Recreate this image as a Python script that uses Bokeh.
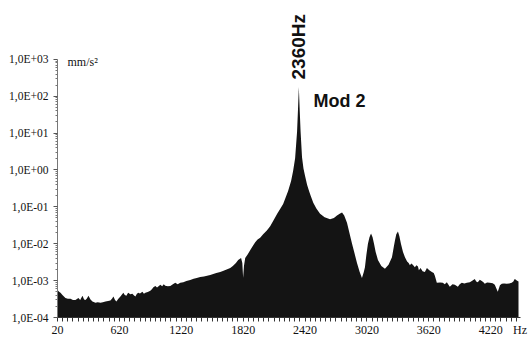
import math
from bokeh.plotting import figure
from bokeh.models import (FixedTicker, CustomJSTickFormatter, Range1d, Label)
from bokeh.embed import file_html
from bokeh.resources import INLINE

# ---- data ----
freq_hz = [20, 35, 49, 70, 97, 120, 146, 170, 194, 223, 240, 262, 278, 291, 305, 320, 340,
           359, 388, 410, 436, 460, 485, 510, 533, 550, 562, 578, 591, 610, 630, 645, 659,
           672, 688, 700, 707, 725, 746, 760, 775, 790, 804, 820, 843, 858, 872, 895, 920,
           935, 950, 969, 985, 1000, 1017, 1035, 1050, 1065, 1090, 1114, 1135, 1162, 1185,
           1211, 1240, 1270, 1307, 1340, 1370, 1404, 1440, 1470, 1501, 1530, 1560, 1598,
           1630, 1660, 1695, 1720, 1750, 1772, 1800, 1812, 1820, 1828, 1840, 1865, 1888,
           1912, 1937, 1960, 1985, 2014, 2050, 2082, 2115, 2150, 2180, 2208, 2232, 2256,
           2285, 2304, 2324, 2343, 2352, 2360, 2368, 2377, 2391, 2405, 2420, 2440, 2459,
           2475, 2500, 2530, 2566, 2610, 2663, 2700, 2730, 2760, 2779, 2800, 2827, 2852,
           2876, 2900, 2924, 2950, 2972, 2990, 3001, 3015, 3030, 3045, 3060, 3075, 3089,
           3105, 3127, 3160, 3195, 3230, 3263, 3280, 3292, 3305, 3321, 3335, 3350, 3370,
           3389, 3410, 3425, 3437, 3450, 3465, 3485, 3500, 3515, 3524, 3540, 3560, 3582,
           3602, 3625, 3650, 3668, 3679, 3698, 3730, 3756, 3775, 3795, 3824, 3850, 3873,
           3902, 3920, 3940, 3965, 3989, 4018, 4045, 4066, 4080, 4095, 4115, 4134, 4150,
           4163, 4185, 4211, 4240, 4260, 4289, 4310, 4328, 4350, 4376, 4400, 4424, 4440,
           4453, 4465, 4473, 4490]

accel_mm_s2 = [5.6e-4, 5.0e-4, 4.7e-4, 4.0e-4, 3.4e-4, 3.2e-4, 3.2e-4, 3.0e-4, 3.0e-4, 3.4e-4,
               3.0e-4, 3.9e-4, 3.1e-4, 3.0e-4, 3.3e-4, 3.9e-4, 3.1e-4, 2.7e-4, 2.5e-4, 2.6e-4,
               2.5e-4, 2.6e-4, 2.7e-4, 2.8e-4, 2.9e-4, 3.3e-4, 3.7e-4, 3.0e-4, 2.7e-4, 3.2e-4,
               3.7e-4, 4.2e-4, 4.7e-4, 4.1e-4, 3.9e-4, 4.5e-4, 4.7e-4, 4.3e-4, 4.4e-4, 4.0e-4,
               3.7e-4, 4.4e-4, 4.7e-4, 4.5e-4, 5.0e-4, 4.4e-4, 4.7e-4, 4.9e-4, 5.3e-4, 5.8e-4,
               6.6e-4, 7.2e-4, 6.5e-4, 7.0e-4, 7.7e-4, 7.0e-4, 8.0e-4, 7.3e-4, 7.0e-4, 7.2e-4,
               7.8e-4, 8.7e-4, 8.0e-4, 8.7e-4, 9.0e-4, 9.8e-4, 1.04e-3, 1.12e-3, 1.18e-3,
               1.26e-3, 1.30e-3, 1.36e-3, 1.42e-3, 1.5e-3, 1.6e-3, 1.71e-3, 1.85e-3, 2.0e-3,
               2.19e-3, 2.5e-3, 3.0e-3, 3.6e-3, 4.1e-3, 3.0e-3, 1.2e-3, 2.5e-3, 4.1e-3, 5.2e-3,
               6.7e-3, 8.5e-3, 1.09e-2, 1.3e-2, 1.45e-2, 1.8e-2, 2.3e-2, 3.0e-2, 4.3e-2,
               6.5e-2, 8.9e-2, 0.12, 0.18, 0.27, 0.50, 0.93, 2.07, 11, 45, 178, 45, 11, 2.2,
               1.1, 0.7, 0.4, 0.27, 0.2, 0.13, 0.09, 0.065, 0.052, 0.046, 0.05, 0.058, 0.066,
               0.07, 0.058, 0.037, 0.019, 0.010, 0.0055, 0.0030, 0.0017, 0.00118, 0.0017,
               0.0023, 0.005, 0.010, 0.015, 0.019, 0.015, 0.010, 0.006, 0.0036, 0.0025, 0.0021,
               0.0027, 0.0043, 0.008, 0.0123, 0.018, 0.0215, 0.016, 0.010, 0.006, 0.0043,
               0.0033, 0.0030, 0.0026, 0.0029, 0.0027, 0.0023, 0.0026, 0.0024, 0.0019, 0.0022,
               0.0018, 0.0017, 0.0022, 0.0019, 0.0017, 0.0016, 0.00135, 0.00087, 0.00089,
               0.00087, 0.00080, 0.00090, 0.00068, 0.00080, 0.00077, 0.00068, 0.00080,
               0.00087, 0.00084, 0.00087, 0.00090, 0.00100, 0.00111, 0.00095, 0.00090,
               0.00105, 0.00097, 0.00090, 0.00082, 0.00089, 0.00087, 0.00085, 0.00077,
               0.00050, 0.00075, 0.00082, 0.00083, 0.00082, 0.00084, 0.00087, 0.00095,
               0.00111, 0.00105, 0.00100, 0.00095]

x_tick_values = [20, 620, 1220, 1820, 2420, 3020, 3620, 4220]
y_tick_values = [1e-4, 1e-3, 1e-2, 1e-1, 1e0, 1e1, 1e2, 1e3]

peak_freq = 2360
peak_label = "2360Hz"
mode_label = "Mod 2"
y_unit = "mm/s\u00b2"
x_unit = "Hz"
x_unit_pos = 4505  # where the unit text sits on the frequency axis

# ---- figure ----
X_MIN, X_END, X_AXIS_END, X_RANGE_END = 20, 4490, 4510, 4616
Y_MIN, Y_MAX, Y_RANGE_END = 1e-4, 1e3, 10 ** 4.595

p = figure(width=531, height=339, output_backend="svg", toolbar_location=None,
           y_axis_type="log",
           x_range=Range1d(X_MIN, X_RANGE_END), y_range=Range1d(Y_MIN, Y_RANGE_END),
           min_border_left=57, min_border_right=0, min_border_top=0, min_border_bottom=21)
p.outline_line_color = None
p.grid.grid_line_color = None
p.background_fill_color = "white"
p.border_fill_color = "white"

baseline = [Y_MIN] * len(freq_hz)
p.varea(x=freq_hz, y1=baseline, y2=accel_mm_s2, fill_color="#141414")

serif = "Liberation Serif, Times New Roman, Times, serif"

# x axis
xa = p.xaxis[0]
xa.bounds = (X_MIN, X_AXIS_END)
xa.ticker = FixedTicker(ticks=x_tick_values + [x_unit_pos],
                        minor_ticks=list(range(X_MIN, X_END + 1, 50)))
xa.major_label_overrides = {x_unit_pos: x_unit}
xa.axis_line_color = "#333333"
xa.major_tick_line_color = None
xa.minor_tick_line_color = "#333333"
xa.major_tick_in = 0
xa.major_tick_out = 4
xa.minor_tick_in = 0
xa.minor_tick_out = 4
xa.major_label_standoff = 1
xa.major_label_text_font = serif
xa.major_label_text_font_size = "12px"
xa.major_label_text_color = "#111111"

# y axis
minor_y = []
for e in range(-4, 3):
    for k in range(2, 10):
        minor_y.append(k * 10.0 ** e)
ya = p.yaxis[0]
ya.bounds = (Y_MIN, Y_MAX)
ya.ticker = FixedTicker(ticks=y_tick_values, minor_ticks=minor_y)
ya.formatter = CustomJSTickFormatter(code="""
const e = Math.round(Math.log10(tick));
const s = e < 0 ? "-" : "+";
const a = Math.abs(e);
return "1,0E" + s + (a < 10 ? "0" : "") + a;
""")
ya.axis_line_color = "#777777"
ya.major_tick_line_color = "#555555"
ya.minor_tick_line_color = "#777777"
ya.major_tick_in = 0
ya.major_tick_out = 4
ya.minor_tick_in = 0
ya.minor_tick_out = 2
ya.major_label_standoff = 5
ya.major_label_text_font = serif
ya.major_label_text_font_size = "11.5px"
ya.major_label_text_color = "#111111"

# annotations
p.add_layout(Label(x=10, y=256, x_units="screen", y_units="screen", text=y_unit,
                   text_font=serif, text_font_size="12px", text_color="#111111",
                   text_baseline="middle"))
p.add_layout(Label(x=peak_freq, y=238, y_units="screen", text=peak_label,
                   angle=math.pi / 2, text_font="Liberation Sans", text_font_style="bold",
                   text_font_size="19px", text_color="#111111",
                   text_align="left", text_baseline="middle"))
p.add_layout(Label(x=256, y=217, x_units="screen", y_units="screen", text=mode_label,
                   text_font="Liberation Sans", text_font_style="bold",
                   text_font_size="18px", text_color="#111111",
                   text_align="left", text_baseline="middle"))

open("out.html", "w").write(file_html(p, INLINE))
